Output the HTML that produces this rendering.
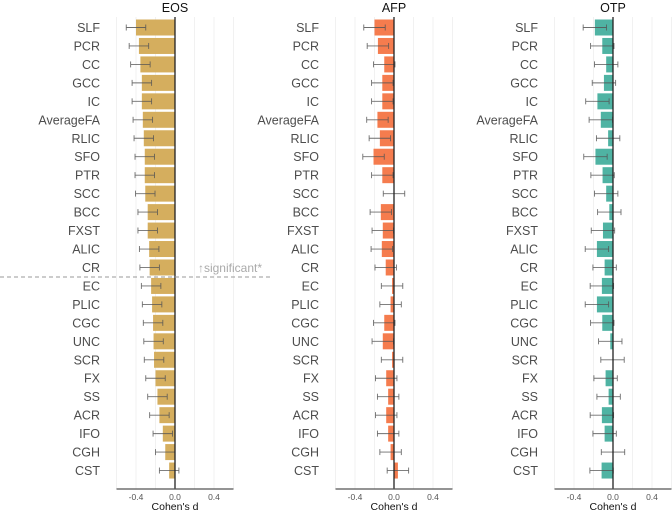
<!DOCTYPE html>
<html><head><meta charset="utf-8">
<style>
html,body{margin:0;padding:0;background:#fff;}
svg{display:block;font-family:"Liberation Sans",sans-serif;}
</style></head>
<body>
<svg id="chart" width="672" height="512" viewBox="0 0 672 512"></svg>
<script>
const tracts = ["SLF","PCR","CC","GCC","IC","AverageFA","RLIC","SFO","PTR","SCC","BCC","FXST","ALIC","CR","EC","PLIC","CGC","UNC","SCR","FX","SS","ACR","IFO","CGH","CST"];
const eosValues = [-0.40,-0.37,-0.355,-0.34,-0.34,-0.33,-0.32,-0.31,-0.31,-0.305,-0.28,-0.28,-0.265,-0.26,-0.245,-0.235,-0.225,-0.22,-0.215,-0.20,-0.18,-0.16,-0.125,-0.10,-0.06];
const eosErr = [0.10,0.10,0.10,0.10,0.10,0.10,0.10,0.10,0.10,0.10,0.10,0.10,0.10,0.10,0.10,0.10,0.10,0.10,0.10,0.10,0.10,0.10,0.10,0.10,0.10];
const afpValues = [-0.20,-0.165,-0.10,-0.12,-0.12,-0.17,-0.145,-0.21,-0.12,0.0,-0.135,-0.115,-0.125,-0.085,-0.02,-0.035,-0.10,-0.115,-0.02,-0.08,-0.06,-0.08,-0.06,-0.035,0.04];
const afpErr = [0.11,0.11,0.11,0.11,0.11,0.11,0.11,0.11,0.11,0.11,0.11,0.11,0.11,0.11,0.11,0.11,0.11,0.11,0.11,0.11,0.11,0.11,0.11,0.11,0.11];
const otpValues = [-0.186,-0.11,-0.07,-0.093,-0.16,-0.125,-0.05,-0.18,-0.107,-0.07,-0.038,-0.103,-0.165,-0.086,-0.114,-0.165,-0.11,-0.028,-0.005,-0.076,-0.045,-0.114,-0.086,0.0,-0.117];
const otpErr = [0.12,0.12,0.12,0.12,0.12,0.12,0.12,0.12,0.12,0.12,0.12,0.12,0.12,0.12,0.12,0.12,0.12,0.12,0.12,0.12,0.12,0.12,0.12,0.12,0.12];
const panelTitles = ["EOS","AFP","OTP"];
const tickValues = [-0.4,0.0,0.4];
const tickLabels = ["-0.4","0.0","0.4"];
const gridValues = [-0.6,-0.4,-0.2,0.2,0.4,0.6];

const NS="http://www.w3.org/2000/svg";
const svg=document.getElementById('chart');
function mk(tag,attrs,parent){const e=document.createElementNS(NS,tag);for(const k in attrs)e.setAttribute(k,attrs[k]);(parent||svg).appendChild(e);return e;}

const panels=[
 {zero:175,vals:eosValues,err:eosErr,color:"#D5AE5E",labelRight:100,key:"eos"},
 {zero:394,vals:afpValues,err:afpErr,color:"#F57C4E",labelRight:319,key:"afp"},
 {zero:613,vals:otpValues,err:otpErr,color:"#4FB3A3",labelRight:538,key:"otp"}
];
const scaleK=97.5, rowY0=27.5, rowStep=18.46, barH=16, topY=17, axisY=489;
function yPos(i){return rowY0+i*rowStep;}

panels.forEach((p,pi)=>{
 const g=mk('g',{});
 
 
 const x=v=>p.zero+v*scaleK;
 gridValues.forEach(v=>{
  const l=mk('line',{x1:x(v),x2:x(v),y1:topY,y2:axisY,stroke:"#eeeeee","stroke-width":0.8},g);
  
  
 });
 const t=mk('text',{x:p.zero,y:12,"text-anchor":"middle","font-size":12.5,fill:"#111"},g);
 t.textContent=panelTitles[pi];
 
 
 tracts.forEach((name,i)=>{
  const cy=yPos(i), v=p.vals[i];
  const lab=mk('text',{x:p.labelRight,y:cy+4.5,"text-anchor":"end","font-size":12.5,fill:"#4d4d4d"},g);
  lab.textContent=name;
  
  
  const bx=Math.min(x(v),x(0)), bw=Math.abs(x(v)-x(0));
  const b=mk('rect',{x:bx,y:cy-barH/2,width:bw,height:barH,fill:p.color},g);
  
  
  const lo=x(v-p.err[i]), hi=x(v+p.err[i]);
  const eg=mk('g',{stroke:"#555","stroke-width":0.9,opacity:0.85},g);
  
  
  mk('line',{x1:lo,x2:hi,y1:cy,y2:cy},eg);
  mk('line',{x1:lo,x2:lo,y1:cy-3,y2:cy+3},eg);
  mk('line',{x1:hi,x2:hi,y1:cy-3,y2:cy+3},eg);
 });
 const z=mk('line',{x1:x(0),x2:x(0),y1:topY,y2:axisY,stroke:"#222","stroke-width":1.3},g);
 
 
 const ax=mk('line',{x1:x(-0.6),x2:x(0.6),y1:axisY,y2:axisY,stroke:"#555","stroke-width":1.2},g);
 
 
 tickValues.forEach((v,k)=>{
  const tl=mk('text',{x:x(v),y:500,"text-anchor":"middle","font-size":8.5,fill:"#555"},g);
  tl.textContent=tickLabels[k];
  
  
 });
 const at=mk('text',{x:x(0),y:510,"text-anchor":"middle","font-size":10.5,fill:"#111"},g);
 at.textContent="Cohen's d";
 
 
});

const dl=mk('line',{x1:0,x2:270,y1:277,y2:277,stroke:"#999","stroke-width":1,"stroke-dasharray":"4,3"});


const st=mk('text',{x:262,y:272,"text-anchor":"end","font-size":12,fill:"#aaa","font-family":"'Liberation Sans Narrow','Liberation Sans',sans-serif"});
st.textContent="↑significant*";


</script>
</body></html>
